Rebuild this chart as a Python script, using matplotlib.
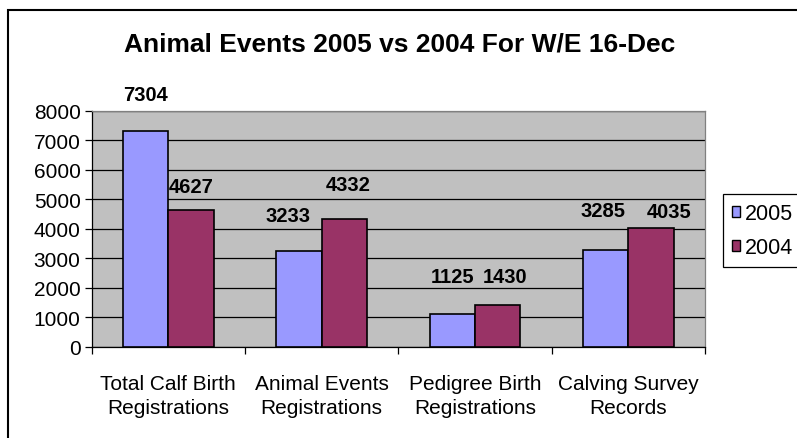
import matplotlib
matplotlib.use("Agg")
import numpy as np
import matplotlib.pyplot as plt
from matplotlib.patches import Patch, Rectangle

plt.rcParams['font.family'] = ['Liberation Sans', 'DejaVu Sans']

title = "Animal Events 2005 vs 2004 For W/E 16-Dec"
categories = ["Total Calf Birth\nRegistrations", "Animal Events\nRegistrations",
              "Pedigree Birth\nRegistrations", "Calving Survey\nRecords"]
series_names = ["2005", "2004"]
values_2005 = [7304, 3233, 1125, 3285]
values_2004 = [4627, 4332, 1430, 4035]

# label offsets from bar top (pixels), as placed in the original
dx_2005 = [0, -11, 0, -3]
dy_2005 = [37, 36, 37, 39]
dx_2004 = [0, 4, 7, 18]
dy_2004 = [24, 34, 28, 16]

col_2005 = "#9999FF"
col_2004 = "#993366"

fig = plt.figure(figsize=(7.97, 4.39), dpi=100)
W, H = 797.0, 439.0
ax = fig.add_axes([91.7 / W, 1 - 347.7 / H, (705 - 91.7) / W, (347.7 - 111.7) / H])
ax.set_facecolor("#C0C0C0")

x = np.arange(len(categories))
bw = 0.295
b1 = ax.bar(x - bw / 2, values_2005, bw, color=col_2005, edgecolor="black", linewidth=1.2, zorder=3)
b2 = ax.bar(x + bw / 2, values_2004, bw, color=col_2004, edgecolor="black", linewidth=1.2, zorder=3)

for bars, vals, dxs, dys in [(b1, values_2005, dx_2005, dy_2005), (b2, values_2004, dx_2004, dy_2004)]:
    for b, v, dx, dy in zip(bars, vals, dxs, dys):
        ax.annotate(str(v), (b.get_x() + b.get_width() / 2, v), xytext=(dx, dy),
                    textcoords="offset pixels", ha="center", va="center",
                    fontsize=14.5, fontweight="bold", zorder=4)

ax.set_xlim(-0.5, 3.5)
ax.set_ylim(0, 8000)
ax.set_yticks(np.arange(0, 8001, 1000))
ax.yaxis.grid(True, color="black", linewidth=0.9, zorder=1)
ax.set_axisbelow(True)
ax.tick_params(axis="y", direction="out", length=5, width=0.9, labelsize=15, pad=3)

ax.set_xticks(np.arange(-0.5, 3.6, 1.0))
ax.set_xticklabels([])
ax.tick_params(axis="x", which="major", direction="out", length=5, width=0.9)
ax.set_xticks(x, minor=True)
ax.set_xticklabels(categories, minor=True, fontsize=15, linespacing=1.38)
ax.tick_params(axis="x", which="minor", length=0, pad=19.5)

for s in ["left", "bottom"]:
    ax.spines[s].set_color("black")
    ax.spines[s].set_linewidth(0.9)
for s in ["right", "top"]:
    ax.spines[s].set_color("#808080")
    ax.spines[s].set_linewidth(0.9)

fig.text(400 / W, 1 - 44 / H, title, ha="center", va="center", fontsize=19, fontweight="bold")

handles = [Patch(facecolor=col_2005, edgecolor="black"), Patch(facecolor=col_2004, edgecolor="black")]
leg = fig.legend(handles, series_names, loc="upper left", bbox_to_anchor=(723 / W, 1 - 195 / H),
                 fontsize=15.5, frameon=True, fancybox=False, edgecolor="black", framealpha=1,
                 handlelength=0.38, handleheight=0.38, handletextpad=0.2, labelspacing=0.6,
                 borderpad=0.42, borderaxespad=0)
leg.get_frame().set_linewidth(0.9)

fig.patches.append(Rectangle((8 / W, -0.05), 2.0, 1 - 11 / H + 0.05, transform=fig.transFigure,
                             fill=False, edgecolor="black", linewidth=1.5, clip_on=False))

fig.savefig("out.png", dpi=100)
